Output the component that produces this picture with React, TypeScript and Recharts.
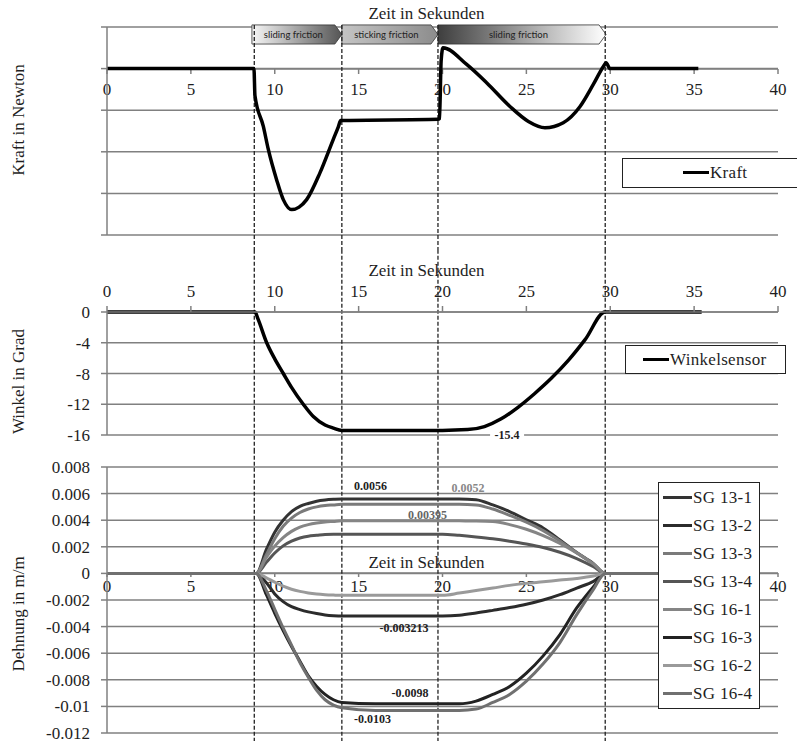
import {
  LineChart,
  Line,
  XAxis,
  YAxis,
  CartesianGrid,
  ReferenceLine,
  ReferenceArea,
  ReferenceDot,
  Legend,
} from 'recharts'

const SERIF = "'Liberation Serif', 'Times New Roman', serif"
const SANS = "Lato, 'Liberation Sans', sans-serif"
const GRID = '#808080'
const INK = '#1e1e1e'

// time axis in seconds, shared by the three panels
const timeTicks = [0, 5, 10, 15, 20, 25, 30, 35, 40]
const strainTimeTicks = [0, 5, 10, 15, 20, 25, 30, 40] // 35 sits under the legend
const phaseLines = [8.78, 14.0, 19.73, 29.7]
const phaseBounds = [8.64, 14.0, 19.73, 29.75]
const phaseNames = ['sliding friction', 'sticking friction', 'sliding friction']

// Kraft: the original axis has no numbers, one grid step = 1
const kraftTicks = [1, 0, -1, -2, -3, -4]
const kraftTime = [0, 8.76, 8.82, 9.32, 9.62, 10.11, 10.51, 11.01, 11.45, 11.9, 12.7, 13.49, 13.79, 13.93, 19.73, 19.82, 19.92, 20.03, 21.44, 22.63, 24.02, 25.12, 26.11, 27.2, 28.2, 28.99, 29.59, 29.75, 29.99, 35.25]
const kraftValues = [0, 0, -0.65, -1.39, -1.95, -2.67, -3.15, -3.39, -3.33, -3.15, -2.5, -1.7, -1.4, -1.25, -1.22, -1.2, 0.2, 0.5, 0.1, -0.34, -0.91, -1.27, -1.42, -1.3, -0.91, -0.38, 0.05, 0.14, 0, 0]

// Winkel in Grad
const winkelTicks = [0, -4, -8, -12, -16]
const winkelTime = [0, 8.82, 9.0, 9.52, 10.0, 10.51, 11.0, 11.7, 12.3, 13.0, 13.49, 14.0, 20.0, 21.5, 22.5, 23.5, 24.5, 25.5, 26.5, 27.5, 28.5, 29.69, 35.45]
const winkelValues = [0, 0, -0.9, -4, -6.1, -8, -9.8, -12, -13.6, -14.7, -15.1, -15.4, -15.4, -15.3, -14.9, -13.9, -12.4, -10.6, -8.6, -6.3, -3.6, 0, 0]
const winkelNote = { t: 23.85, v: -16, text: '-15.4' }

// Dehnung in m/m
const strainTicks = [0.008, 0.006, 0.004, 0.002, 0, -0.002, -0.004, -0.006, -0.008, -0.01, -0.012]
const strainTime = [0, 8.9, 9.5, 10, 10.5, 11, 11.5, 12, 12.5, 13, 13.5, 14, 16, 18, 20, 21, 22, 23, 24, 25, 26, 27, 28, 29, 29.7, 35.5]
const strainNames = ['SG 13-1', 'SG 13-2', 'SG 13-3', 'SG 13-4', 'SG 16-1', 'SG 16-3', 'SG 16-2', 'SG 16-4']
const sg13_1 = [0, 0, 0.0018, 0.0031, 0.004, 0.00465, 0.00504, 0.00526, 0.00543, 0.00552, 0.00557, 0.0056, 0.0056, 0.0056, 0.0056, 0.0056, 0.00554, 0.00515, 0.00465, 0.00403, 0.00342, 0.00252, 0.00157, 0.00073, 0, 0]
const sg13_2 = [0, 0, -0.0007, -0.00154, -0.00212, -0.0025, -0.00272, -0.00289, -0.00302, -0.00312, -0.00318, -0.00321, -0.00321, -0.00321, -0.00321, -0.00315, -0.00298, -0.00278, -0.00257, -0.00232, -0.002, -0.0016, -0.0011, -0.0006, 0, 0]
const sg13_3 = [0, 0, 0.0014, 0.0026, 0.00354, 0.00416, 0.00458, 0.00484, 0.005, 0.0051, 0.00515, 0.0052, 0.0052, 0.0052, 0.0052, 0.0052, 0.00515, 0.00484, 0.00437, 0.00385, 0.00322, 0.00244, 0.00156, 0.00068, 0, 0]
const sg13_4 = [0, 0, 0.00083, 0.00153, 0.00207, 0.00242, 0.00266, 0.0028, 0.00286, 0.00292, 0.00295, 0.00295, 0.00295, 0.00295, 0.00295, 0.00286, 0.00274, 0.0026, 0.00242, 0.00221, 0.00195, 0.00159, 0.00112, 0.0005, 0, 0]
const sg16_1 = [0, 0, 0.0012, 0.00205, 0.00269, 0.00316, 0.00348, 0.00367, 0.00379, 0.00387, 0.00391, 0.00395, 0.00395, 0.00395, 0.00395, 0.00395, 0.00394, 0.0039, 0.00367, 0.00332, 0.00284, 0.00225, 0.00154, 0.00071, 0, 0]
const sg16_3 = [0, 0, -0.0016, -0.003, -0.0043, -0.0055, -0.0066, -0.0077, -0.0085, -0.0091, -0.0095, -0.0097, -0.0098, -0.0098, -0.0098, -0.0098, -0.0096, -0.0091, -0.0085, -0.0075, -0.0062, -0.0046, -0.0026, -0.001, 0, 0]
const sg16_2 = [0, 0, -0.00033, -0.00066, -0.00096, -0.00119, -0.00135, -0.00147, -0.00155, -0.0016, -0.00163, -0.00165, -0.00165, -0.00165, -0.00165, -0.00148, -0.00128, -0.0011, -0.0009, -0.00075, -0.00063, -0.0005, -0.00038, -0.0002, 0, 0]
const sg16_4 = [0, 0, -0.0013, -0.0027, -0.0041, -0.0054, -0.0067, -0.0078, -0.0088, -0.0095, -0.0099, -0.0101, -0.0103, -0.0103, -0.0103, -0.0103, -0.0102, -0.0097, -0.0091, -0.0081, -0.0068, -0.0052, -0.0031, -0.0012, 0, 0]
const strainValues = [sg13_1, sg13_2, sg13_3, sg13_4, sg16_1, sg16_3, sg16_2, sg16_4]
const strainNotes = [
  { t: 15.71, v: 0.00654, text: '0.0056' },
  { t: 21.52, v: 0.00639, text: '0.0052' },
  { t: 19.1, v: 0.00436, text: '0.00395' },
  { t: 17.7, v: -0.00414, text: '-0.003213' },
  { t: 18.06, v: -0.00902, text: '-0.0098' },
  { t: 15.83, v: -0.01098, text: '-0.0103' },
]

// styles
const strainColors = ['#333333', '#2b2b2b', '#7a7a7a', '#555555', '#858585', '#222222', '#9a9a9a', '#707070']
const noteColors = ['#1e1e1e', '#888888', '#666666', '#1e1e1e', '#1e1e1e', '#1e1e1e']
const phaseFills = [
  ['#f6f6f6', '#555555'],
  ['#c4c4c4', '#8c8c8c'],
  ['#3e3e3e', '#ffffff'],
]

const kraftRows = kraftTime.map((t, i) => ({ t, kraft: kraftValues[i] }))
const winkelRows = winkelTime.map((t, i) => ({ t, winkel: winkelValues[i] }))
const strainRows = strainTime.map((t, i) => {
  const row: Record<string, number> = { t }
  strainValues.forEach((vals, s) => { row['s' + s] = vals[i] })
  return row
})

const tickFont = { fontFamily: SERIF, fontSize: 17, fill: INK }

function yTitle(text: string, shift: number) {
  return {
    content: (p: any) => {
      const vb = p.viewBox || { y: 0, height: 0 }
      const cy = vb.y + vb.height / 2 + shift
      return (
        <text x={18} y={cy} transform={`rotate(-90 18 ${cy})`} textAnchor="middle" dominantBaseline="central"
          fontFamily={SERIF} fontSize={17} fill={INK}>
          {text}
        </text>
      )
    },
  }
}

function zeitTitle(shift: number) {
  return {
    content: (p: any) => {
      const vb = p.viewBox || { x: 0, y: 0, width: 0 }
      return (
        <text x={vb.x + vb.width / 2 - 16} y={vb.y + shift} textAnchor="middle" dominantBaseline="central"
          fontFamily={SERIF} fontSize={17} fill={INK}>
          Zeit in Sekunden
        </text>
      )
    },
  }
}

function PhaseArrow(props: any) {
  const { x, y, width, height, index, text } = props
  const tip = 7
  const id = `phase-grad-${index}`
  const pts = `${x},${y} ${x + width - tip},${y} ${x + width},${y + height / 2} ${x + width - tip},${y + height} ${x},${y + height}`
  return (
    <g>
      <defs>
        <linearGradient id={id} x1="0" y1="0" x2="1" y2="0">
          <stop offset="0" stopColor={phaseFills[index][0]} />
          <stop offset="1" stopColor={phaseFills[index][1]} />
        </linearGradient>
      </defs>
      <polygon points={pts} fill={`url(#${id})`} stroke="#333" strokeWidth={0.8} />
      <text x={x + (width - tip) / 2} y={y + height / 2} textAnchor="middle" dominantBaseline="central"
        fontFamily={SANS} fontSize={9.5} fill="#222">
        {text}
      </text>
    </g>
  )
}

function BoxLegend({ payload, box, pad, sample, rowH }: any) {
  return (
    <div style={{ background: '#fff', border: '1.5px solid #222', boxSizing: 'border-box', ...box }}>
      {(payload || []).map((e: any) => (
        <div key={e.value} style={{ display: 'flex', alignItems: 'center', height: rowH, paddingLeft: pad }}>
          <span style={{ width: sample, height: 3, background: e.color, display: 'inline-block' }} />
          <span style={{ fontFamily: SERIF, fontSize: 17, color: INK, marginLeft: 1, letterSpacing: '0.3px', lineHeight: 1 }}>
            {e.value}
          </span>
        </div>
      ))}
    </div>
  )
}

function dashed(top: number, bottom: number) {
  return phaseLines.map(t => (
    <ReferenceLine key={'d' + t} segment={[{ x: t, y: top }, { x: t, y: bottom }]} stroke="#222"
      strokeDasharray="4 2" strokeWidth={1.3} ifOverflow="visible" />
  ))
}

export default function App() {
  return (
    <div style={{ position: 'absolute', left: 0, top: 0, width: 797, height: 741, background: '#fff', overflow: 'hidden', fontFamily: SERIF }}>
      <style>{`.recharts-cartesian-axis-tick-value, .recharts-cartesian-axis-tick-value tspan { font-family: 'Liberation Serif', 'Times New Roman', serif; }`}</style>
      {/* panel 1 – x axis sits on the zero line, drawn by its own chart */}
      <div style={{ position: 'absolute', left: 0, top: 0 }}>
        <LineChart width={797} height={110} data={kraftRows} margin={{ top: 0, right: 19, bottom: 0, left: 107 }}>
          <XAxis dataKey="t" type="number" domain={[0, 40]} ticks={timeTicks} interval={0} allowDataOverflow
            height={41} tickSize={5} tickMargin={9} tick={tickFont}
            axisLine={{ stroke: GRID, strokeWidth: 1.5 }} tickLine={{ stroke: GRID, strokeWidth: 1.5 }}
            label={zeitTitle(-56)} />
        </LineChart>
      </div>
      <div style={{ position: 'absolute', left: 0, top: 0 }}>
        <LineChart width={797} height={250} data={kraftRows} margin={{ top: 27, right: 19, bottom: 15, left: 97 }}>
          <CartesianGrid vertical={false} stroke={GRID} strokeWidth={1.5} />
          <XAxis dataKey="t" type="number" domain={[0, 40]} ticks={timeTicks} hide />
          <YAxis domain={[-4, 1]} ticks={kraftTicks} interval={0} width={10} tickSize={6}
            tickFormatter={() => ''} axisLine={{ stroke: GRID, strokeWidth: 1.5 }} tickLine={{ stroke: GRID, strokeWidth: 1.5 }}
            label={yTitle('Kraft in Newton', -11)} />
          {phaseNames.map((name, i) => (
            <ReferenceArea key={'p' + i} x1={phaseBounds[i]} x2={phaseBounds[i + 1]} y1={0.59} y2={1.05}
              ifOverflow="visible" shape={(p: any) => <PhaseArrow {...p} index={i} text={name} />} />
          ))}
          {dashed(1.05, -4.4)}
          <Line type="monotone" dataKey="kraft" name="Kraft" stroke="#000" strokeWidth={3.5} dot={false}
            activeDot={false} isAnimationActive={false} />
          <Legend layout="horizontal" verticalAlign="middle" align="center"
            wrapperStyle={{ position: 'absolute', left: 622, top: 158, width: 175 }}
            content={(p: any) => (
              <BoxLegend payload={p.payload} box={{ width: 175, height: 30, borderRight: 'none' }} pad={60} sample={26} rowH={27} />
            )} />
        </LineChart>
      </div>

      {/* panel 2 – Winkel */}
      <div style={{ position: 'absolute', left: 0, top: 250 }}>
        <LineChart width={797} height={200} data={winkelRows} margin={{ top: 0, right: 19, bottom: 15, left: 47 }}>
          <CartesianGrid vertical={false} stroke={GRID} strokeWidth={1.5} />
          <XAxis dataKey="t" type="number" domain={[0, 40]} ticks={timeTicks} interval={0} orientation="top"
            height={62} tickSize={6} tickMargin={9} tick={tickFont}
            axisLine={{ stroke: GRID, strokeWidth: 1.5 }} tickLine={{ stroke: GRID, strokeWidth: 1.5 }}
            label={zeitTitle(20)} />
          <YAxis domain={[-16, 0]} ticks={winkelTicks} interval={0} width={60} tickSize={6} tickMargin={11}
            tick={tickFont} axisLine={{ stroke: GRID, strokeWidth: 1.5 }} tickLine={{ stroke: GRID, strokeWidth: 1.5 }}
            label={yTitle('Winkel in Grad', 8)} />
          {dashed(8.1, -18)}
          <Line type="monotone" dataKey="winkel" name="Winkelsensor" stroke="#000" strokeWidth={3.5} dot={false}
            activeDot={false} isAnimationActive={false} />
          <ReferenceDot x={winkelNote.t} y={winkelNote.v} ifOverflow="visible"
            shape={(p: any) => (
              <g>
                <rect x={p.cx - 17} y={p.cy - 7} width={34} height={14} fill="#fff" />
                <text x={p.cx} y={p.cy} textAnchor="middle" dominantBaseline="central" fontFamily={SERIF}
                  fontSize={12} fontWeight="bold" fill={INK}>{winkelNote.text}</text>
              </g>
            )} />
          <Legend layout="horizontal" verticalAlign="middle" align="center"
            wrapperStyle={{ position: 'absolute', left: 625, top: 95, width: 161 }}
            content={(p: any) => (
              <BoxLegend payload={p.payload} box={{ width: 161, height: 29 }} pad={17} sample={26} rowH={26} />
            )} />
        </LineChart>
      </div>

      {/* panel 3 – Dehnung; axis at the zero line again */}
      <div style={{ position: 'absolute', left: 0, top: 450 }}>
        <LineChart width={797} height={160} data={strainRows} margin={{ top: 0, right: 19, bottom: 0, left: 107 }}>
          <XAxis dataKey="t" type="number" domain={[0, 40]} ticks={strainTimeTicks} interval={0} allowDataOverflow
            height={37} tickSize={4} tickMargin={3} tick={tickFont}
            axisLine={{ stroke: GRID, strokeWidth: 1.5 }} tickLine={{ stroke: GRID, strokeWidth: 1.5 }}
            label={zeitTitle(-11)} />
        </LineChart>
      </div>
      <div style={{ position: 'absolute', left: 0, top: 450 }}>
        <LineChart width={797} height={291} data={strainRows} margin={{ top: 17, right: 19, bottom: 8, left: 47 }}>
          <CartesianGrid vertical={false} stroke={GRID} strokeWidth={1.5} />
          <XAxis dataKey="t" type="number" domain={[0, 40]} ticks={timeTicks} hide />
          <YAxis domain={[-0.012, 0.008]} ticks={strainTicks} interval={0} width={60} tickSize={6} tickMargin={11}
            tick={tickFont} axisLine={{ stroke: GRID, strokeWidth: 1.5 }} tickLine={{ stroke: GRID, strokeWidth: 1.5 }}
            label={yTitle('Dehnung in m/m', 14)} />
          {dashed(0.0093, -0.0127)}
          {strainNames.map((name, s) => (
            <Line key={name} type="monotone" dataKey={'s' + s} name={name} stroke={strainColors[s]} strokeWidth={3}
              dot={false} activeDot={false} isAnimationActive={false} />
          ))}
          {strainNotes.map((n, i) => (
            <ReferenceDot key={n.text} x={n.t} y={n.v} ifOverflow="visible"
              shape={(p: any) => (
                <text x={p.cx} y={p.cy} textAnchor="middle" dominantBaseline="central" fontFamily={SERIF}
                  fontSize={12} fontWeight="bold" fill={noteColors[i]}>{n.text}</text>
              )} />
          ))}
          <Legend layout="horizontal" verticalAlign="middle" align="center" itemSorter="dataKey"
            wrapperStyle={{ position: 'absolute', left: 658, top: 32, width: 102 }}
            content={(p: any) => (
              <BoxLegend payload={p.payload} box={{ width: 102, height: 227 }} pad={4} sample={29} rowH={28} />
            )} />
        </LineChart>
      </div>
    </div>
  )
}
